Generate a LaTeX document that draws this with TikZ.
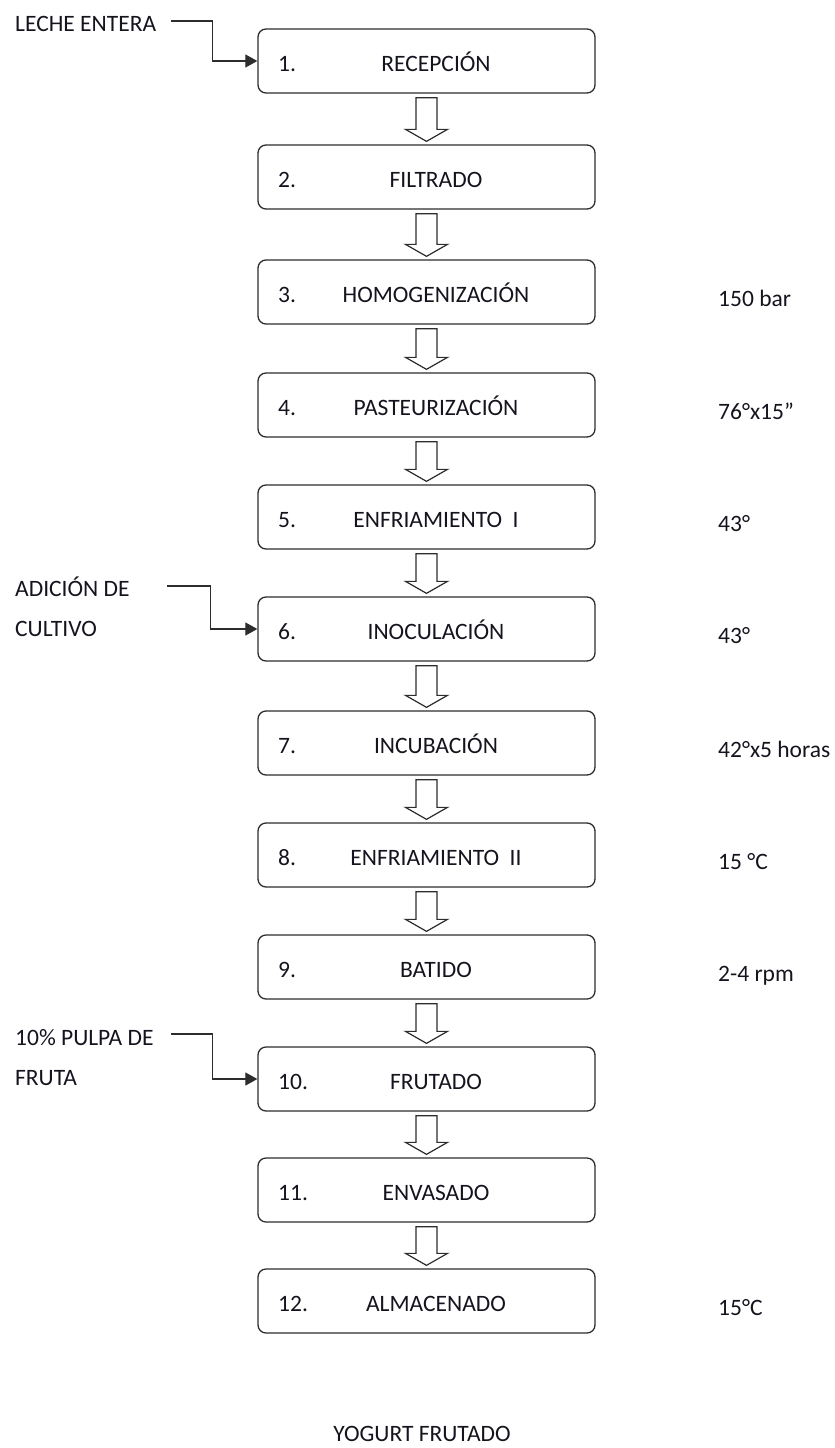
\documentclass[tikz,border=0pt]{standalone}
\usepackage{fontspec}
\setmainfont{Carlito}
\usepackage{tikz}
\usetikzlibrary{arrows.meta}
\definecolor{linecolor}{RGB}{45, 45, 45}
\definecolor{textcolor}{RGB}{20, 20, 30}

\begin{document}
\begin{tikzpicture}[x=1pt, y=-1pt,
    every node/.style={font=\fontsize{23.5}{39.5}\selectfont, text=textcolor, inner sep=0pt},
    stepbox/.style={draw=linecolor, line width=1.3pt, rounded corners=8pt, minimum width=337pt, minimum height=64pt},
    stepnum/.style={anchor=base west},
    stepname/.style={anchor=base},
    note/.style={anchor=base west},
    feedlabel/.style={anchor=base west, align=left},
    feed/.style={draw=linecolor, line width=1.2pt, -{Triangle[length=12pt,width=13pt]}},
    hollow/.style={draw=linecolor, line width=1.2pt, fill=white}]
    \useasboundingbox (0,0) rectangle (835,1448);
    % steps
    \foreach \n/\y/\name in {1/61/RECEPCIÓN, 2/177/FILTRADO, 3/292/HOMOGENIZACIÓN,
        4/405/PASTEURIZACIÓN, 5/517/ENFRIAMIENTO\ \ I, 6/629/INOCULACIÓN,
        7/743/INCUBACIÓN, 8/855/ENFRIAMIENTO\ \ II, 9/967/BATIDO,
        10/1079/FRUTADO, 11/1190/ENVASADO, 12/1301/ALMACENADO}{
        \node[stepbox] (s\n) at (426.5,\y) {};
        \node[stepnum] (n\n) at (278,\y+10) {\n.};
        \node[stepname] (t\n) at (436,\y+10) {\name};
    }
    % hollow arrows
    \foreach \i [count=\j from 2] in {1,...,11}{
        \draw[hollow] ([shift={(-10.5,4)}]s\i.south) -- ([shift={(10.5,4)}]s\i.south)
            -- ([shift={(10.5,-15)}]s\j.north) -- ([shift={(21,-15)}]s\j.north)
            -- ([shift={(0,-3)}]s\j.north) -- ([shift={(-21,-15)}]s\j.north)
            -- ([shift={(-10.5,-15)}]s\j.north) -- cycle;
    }
    % inputs (base = last line)
    \node[feedlabel] (in1) at (15,31) {LECHE ENTERA};
    \node[feedlabel] (in2) at (15,636) {ADICIÓN DE\\CULTIVO};
    \node[feedlabel] (in3) at (15,1085) {10\% PULPA DE\\FRUTA};
    \coordinate (e1) at (171,21);
    \coordinate (e2) at (167,586);
    \coordinate (e3) at (171,1034);
    \draw[feed] (e1) -| ([xshift=-45pt]s1.west) -- (s1.west);
    \draw[feed] (e2) -| ([xshift=-47pt]s6.west) -- (s6.west);
    \draw[feed] (e3) -| ([xshift=-45pt]s10.west) -- (s10.west);
    % conditions
    \node[note] (c3) at (718,306) {150 bar};
    \node[note] (c4) at (718,419) {76°x15”};
    \node[note] (c5) at (718,531) {43°};
    \node[note] (c6) at (718,643) {43°};
    \node[note] (c7) at (718,757) {42°x5 horas};
    \node[note] (c8) at (718,869) {15 °C};
    \node[note] (c9) at (718,981) {2-4 rpm};
    \node[note] (c12) at (718,1315) {15°C};
    % product
    \node[stepname] (out) at (422,1441) {YOGURT FRUTADO};
\end{tikzpicture}
\end{document}
